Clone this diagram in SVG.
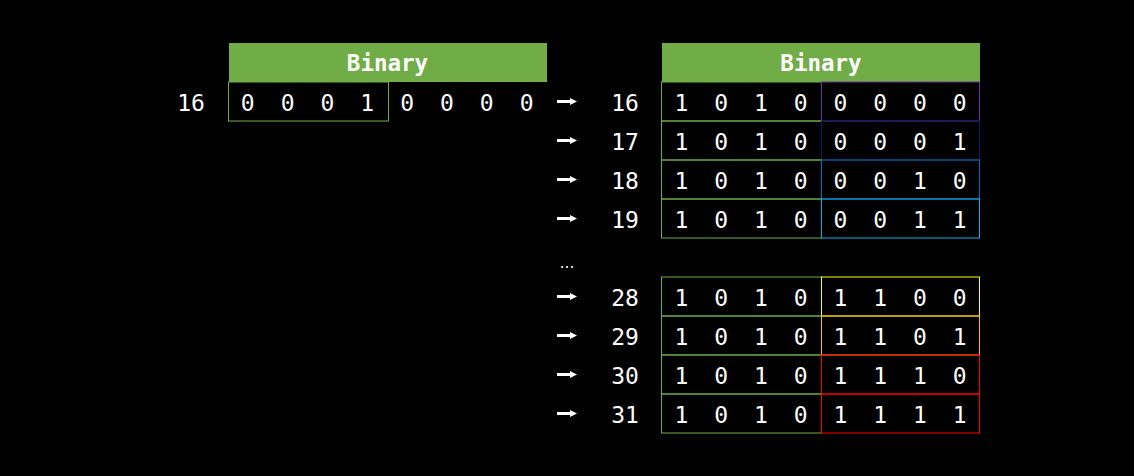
<svg xmlns="http://www.w3.org/2000/svg" width="1134" height="476" viewBox="0 0 1134 476">
<style>
.t{font-family:"DejaVu Sans Mono","Liberation Mono",monospace;font-size:23px;fill:#ffffff;text-anchor:middle}
.h{font-family:"DejaVu Sans Mono","Liberation Mono",monospace;font-size:22.5px;font-weight:bold;fill:#ffffff;text-anchor:middle}
.hd{fill:#70ad47}
.b{fill:none;stroke-width:1}
.g{stroke:#70ad47}
.ar{stroke:#ffffff;stroke-width:3;fill:none;marker-end:url(#ah)}
</style>
<defs>
<marker id="ah" markerUnits="userSpaceOnUse" markerWidth="8" markerHeight="8" refX="0" refY="4" orient="auto">
<path d="M0,0.5 L7,4 L0,7.5 Z" fill="#ffffff"/>
</marker>
</defs>
<rect width="1134" height="476" fill="#000000"/>
<g id="left-table">
<rect class="hd" x="229" y="43" width="318" height="39"/>
<text class="h" x="387.5" y="71">Binary</text>
<text class="t" x="191" y="110.5">16</text>
<rect class="b g" x="228.5" y="82" width="160" height="39"/>
<text class="t" y="110.5"><tspan x="247.7">0</tspan><tspan x="287.6">0</tspan><tspan x="327.4">0</tspan><tspan x="367.3">1</tspan><tspan x="407.1">0</tspan><tspan x="447">0</tspan><tspan x="486.8">0</tspan><tspan x="526.7">0</tspan></text>
</g>
<g id="connectors">
<path class="ar" d="M557 101.5 H570"/>
<path class="ar" d="M557 140.5 H570"/>
<path class="ar" d="M557 179.5 H570"/>
<path class="ar" d="M557 218.5 H570"/>
<path class="ar" d="M557 296.5 H570"/>
<path class="ar" d="M557 335.5 H570"/>
<path class="ar" d="M557 374.5 H570"/>
<path class="ar" d="M557 413.5 H570"/>
</g>
<g id="right-table">
<rect class="hd" x="662" y="43" width="318" height="39"/>
<text class="h" x="821" y="71">Binary</text>
<text x="567" y="268" style="font-family:'DejaVu Sans',sans-serif;font-size:15px;fill:#ffffff;text-anchor:middle">…</text>
</g>
<g id="row16">
<text class="t" x="625" y="110.5">16</text>
<rect class="b g" x="661.5" y="82" width="160" height="39"/>
<rect class="b" stroke="#7030a0" x="821.5" y="82" width="158" height="39"/>
<text class="t" y="110.5"><tspan x="681.5">1</tspan><tspan x="721.3">0</tspan><tspan x="761">1</tspan><tspan x="800.8">0</tspan><tspan x="840.5">0</tspan><tspan x="880.3">0</tspan><tspan x="920">0</tspan><tspan x="959.8">0</tspan></text>
</g>
<g id="row17">
<text class="t" x="625" y="149.5">17</text>
<rect class="b g" x="661.5" y="121" width="160" height="39"/>
<rect class="b" stroke="#002060" x="821.5" y="121" width="158" height="39"/>
<text class="t" y="149.5"><tspan x="681.5">1</tspan><tspan x="721.3">0</tspan><tspan x="761">1</tspan><tspan x="800.8">0</tspan><tspan x="840.5">0</tspan><tspan x="880.3">0</tspan><tspan x="920">0</tspan><tspan x="959.8">1</tspan></text>
</g>
<g id="row18">
<text class="t" x="625" y="188.5">18</text>
<rect class="b g" x="661.5" y="160" width="160" height="39"/>
<rect class="b" stroke="#0070c0" x="821.5" y="160" width="158" height="39"/>
<text class="t" y="188.5"><tspan x="681.5">1</tspan><tspan x="721.3">0</tspan><tspan x="761">1</tspan><tspan x="800.8">0</tspan><tspan x="840.5">0</tspan><tspan x="880.3">0</tspan><tspan x="920">1</tspan><tspan x="959.8">0</tspan></text>
</g>
<g id="row19">
<text class="t" x="625" y="227.5">19</text>
<rect class="b g" x="661.5" y="199" width="160" height="39"/>
<rect class="b" stroke="#00b0f0" x="821.5" y="199" width="158" height="39"/>
<text class="t" y="227.5"><tspan x="681.5">1</tspan><tspan x="721.3">0</tspan><tspan x="761">1</tspan><tspan x="800.8">0</tspan><tspan x="840.5">0</tspan><tspan x="880.3">0</tspan><tspan x="920">1</tspan><tspan x="959.8">1</tspan></text>
</g>
<g id="row28">
<text class="t" x="625" y="305.5">28</text>
<rect class="b g" x="661.5" y="277" width="160" height="39"/>
<rect class="b" stroke="#ffff00" x="821.5" y="277" width="158" height="39"/>
<text class="t" y="305.5"><tspan x="681.5">1</tspan><tspan x="721.3">0</tspan><tspan x="761">1</tspan><tspan x="800.8">0</tspan><tspan x="840.5">1</tspan><tspan x="880.3">1</tspan><tspan x="920">0</tspan><tspan x="959.8">0</tspan></text>
</g>
<g id="row29">
<text class="t" x="625" y="344.5">29</text>
<rect class="b g" x="661.5" y="316" width="160" height="39"/>
<rect class="b" stroke="#ffc000" x="821.5" y="316" width="158" height="39"/>
<text class="t" y="344.5"><tspan x="681.5">1</tspan><tspan x="721.3">0</tspan><tspan x="761">1</tspan><tspan x="800.8">0</tspan><tspan x="840.5">1</tspan><tspan x="880.3">1</tspan><tspan x="920">0</tspan><tspan x="959.8">1</tspan></text>
</g>
<g id="row30">
<text class="t" x="625" y="383.5">30</text>
<rect class="b g" x="661.5" y="355" width="160" height="39"/>
<rect class="b" stroke="#ff0000" x="821.5" y="355" width="158" height="39"/>
<text class="t" y="383.5"><tspan x="681.5">1</tspan><tspan x="721.3">0</tspan><tspan x="761">1</tspan><tspan x="800.8">0</tspan><tspan x="840.5">1</tspan><tspan x="880.3">1</tspan><tspan x="920">1</tspan><tspan x="959.8">0</tspan></text>
</g>
<g id="row31">
<text class="t" x="625" y="422.5">31</text>
<rect class="b g" x="661.5" y="394" width="160" height="39"/>
<rect class="b" stroke="#ff0000" x="821.5" y="394" width="158" height="39"/>
<text class="t" y="422.5"><tspan x="681.5">1</tspan><tspan x="721.3">0</tspan><tspan x="761">1</tspan><tspan x="800.8">0</tspan><tspan x="840.5">1</tspan><tspan x="880.3">1</tspan><tspan x="920">1</tspan><tspan x="959.8">1</tspan></text>
</g>
</svg>
